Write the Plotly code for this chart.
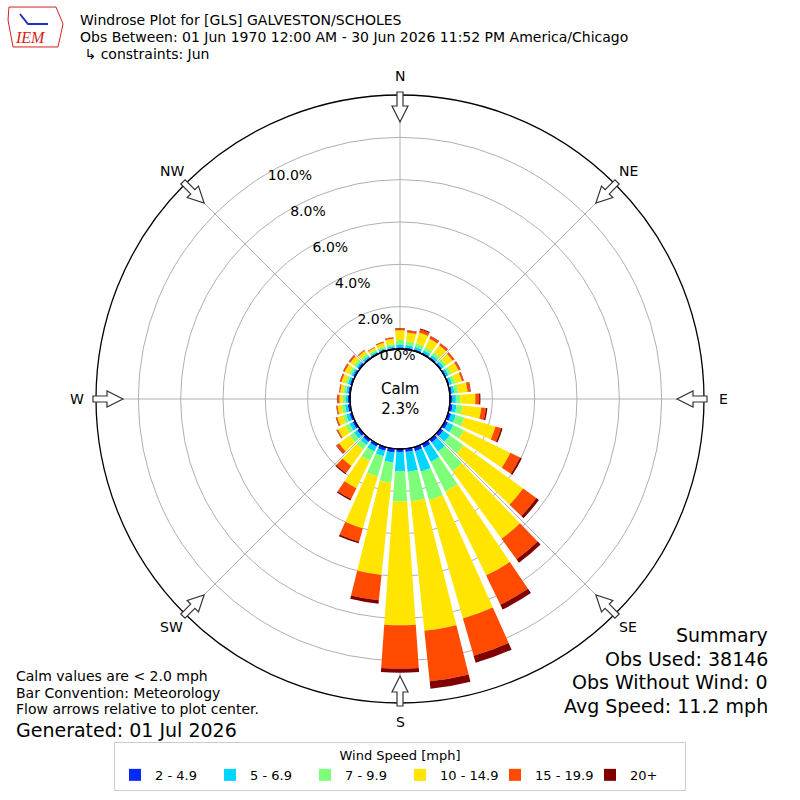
import math
import plotly.graph_objects as go

# wind rose data: percent of observations, by direction (deg) and speed bin
directions = list(range(0, 360, 10))
speed_bins = ['2 - 4.9', '5 - 6.9', '7 - 9.9', '10 - 14.9', '15 - 19.9', '20+']
bin_colors = ['#0029ff', '#00d5ff', '#7dff7a', '#ffe500', '#ff4a00', '#800000']

pct_2_5 = [0.08, 0.08, 0.08, 0.08, 0.08, 0.08, 0.08, 0.08, 0.10, 0.12, 0.14, 0.15,
           0.16, 0.17, 0.18, 0.20, 0.20, 0.16, 0.14, 0.18, 0.18, 0.15, 0.15, 0.15,
           0.13, 0.12, 0.12, 0.10, 0.10, 0.10, 0.10, 0.10, 0.08, 0.07, 0.07, 0.07]
pct_5_7 = [0.14, 0.12, 0.12, 0.12, 0.12, 0.12, 0.12, 0.12, 0.12, 0.16, 0.18, 0.23,
           0.29, 0.38, 0.52, 0.75, 1.00, 0.94, 0.91, 0.47, 0.27, 0.25, 0.18, 0.18,
           0.17, 0.16, 0.13, 0.12, 0.10, 0.10, 0.10, 0.10, 0.09, 0.07, 0.07, 0.08]
pct_7_10 = [0.20, 0.18, 0.18, 0.16, 0.16, 0.15, 0.15, 0.15, 0.18, 0.22, 0.28, 0.42,
            0.55, 0.80, 1.15, 1.55, 1.40, 1.40, 1.43, 0.95, 1.00, 0.50, 0.27, 0.25,
            0.20, 0.17, 0.15, 0.13, 0.12, 0.12, 0.12, 0.12, 0.11, 0.08, 0.08, 0.10]
pct_10_15 = [0.46, 0.42, 0.52, 0.44, 0.42, 0.37, 0.37, 0.33, 0.45, 0.70, 0.90, 1.53,
             2.44, 3.48, 3.95, 4.42, 5.82, 6.15, 5.85, 4.40, 2.55, 1.43, 0.95, 0.62,
             0.40, 0.27, 0.20, 0.15, 0.16, 0.20, 0.23, 0.23, 0.17, 0.11, 0.18, 0.25]
pct_15_20 = [0.09, 0.10, 0.15, 0.12, 0.10, 0.08, 0.08, 0.08, 0.12, 0.18, 0.22, 0.27,
             0.51, 0.77, 1.20, 1.53, 1.84, 2.40, 2.05, 1.20, 0.65, 0.57, 0.43, 0.15,
             0.06, 0.06, 0.05, 0.10, 0.05, 0.06, 0.07, 0.07, 0.05, 0.03, 0.05, 0.06]
pct_20_up = [0.02, 0.02, 0.05, 0.03, 0.02, 0.02, 0.03, 0.02, 0.03, 0.06, 0.07, 0.08,
             0.09, 0.15, 0.20, 0.25, 0.34, 0.35, 0.19, 0.16, 0.08, 0.07, 0.05, 0.03,
             0.02, 0.02, 0.02, 0.02, 0.01, 0.02, 0.02, 0.02, 0.01, 0.01, 0.01, 0.01]
series = [pct_2_5, pct_5_7, pct_7_10, pct_10_15, pct_15_20, pct_20_up]

calm_pct = 2.3
radial_ticks = [0, 2, 4, 6, 8, 10]
compass_angles = [0, 45, 90, 135, 180, 225, 270, 315]
compass_labels = ['N', 'NE', 'E', 'SE', 'S', 'SW', 'W', 'NW']

title_lines = ['Windrose Plot for [GLS] GALVESTON/SCHOLES',
               'Obs Between: 01 Jun 1970 12:00 AM - 30 Jun 2026 11:52 PM America/Chicago',
               ' ↳ constraints: Jun']
note_lines = ['Calm values are < 2.0 mph', 'Bar Convention: Meteorology',
              'Flow arrows relative to plot center.']
summary_lines = ['Summary', 'Obs Used: 38146', 'Obs Without Wind: 0', 'Avg Speed: 11.2 mph']

fig = go.Figure()
for name, vals, col in zip(speed_bins, series, bin_colors):
    fig.add_trace(go.Barpolar(
        r=vals, theta=directions, width=8, name=name,
        marker=dict(color=col, line=dict(width=0))))

# plot geometry in pixels (800x800 page)
W = 800
cx, cy, R, hole_r = 400, 399, 304, 50

def px(x, y):
    return x / W, 1 - y / W

shapes = []
# calm circle outline
shapes.append(dict(type='circle', xref='paper', yref='paper',
                   x0=(cx - hole_r) / W, x1=(cx + hole_r) / W,
                   y0=1 - (cy + hole_r) / W, y1=1 - (cy - hole_r) / W,
                   line=dict(color='black', width=1.3)))

# hollow flow arrows at the rim
for b in compass_angles:
    a = math.radians(b)
    ux, uy = math.sin(a), -math.cos(a)
    vx, vy = -uy, ux
    pts = [(307, -3), (293, -3), (293, -8), (277, 0), (293, 8), (293, 3), (307, 3)]
    path = ''
    for i, (r, w) in enumerate(pts):
        x, y = px(cx + r * ux + w * vx, cy + r * uy + w * vy)
        path += ('M' if i == 0 else 'L') + '{:.5f},{:.5f} '.format(x, y)
    shapes.append(dict(type='path', xref='paper', yref='paper', path=path + 'Z',
                       fillcolor='white', line=dict(color='#333333', width=1.2)))

ann = []
for b, lab in zip(compass_angles, compass_labels):
    a = math.radians(b)
    x, y = px(cx + 323 * math.sin(a), cy - 323 * math.cos(a))
    ann.append(dict(x=x, y=y, xref='paper', yref='paper', text=lab, showarrow=False,
                    font=dict(size=14), xanchor='center', yanchor='middle'))

ann.append(dict(x=0.5, y=1 - cy / W, xref='paper', yref='paper', xanchor='center', yanchor='middle',
                text='Calm<br>{:.1f}%'.format(calm_pct), showarrow=False,
                font=dict(size=15), align='center'))

def text_line(txt, x, y, size, anchor='left'):
    return dict(x=x / W, y=1 - y / W, xref='paper', yref='paper', xanchor=anchor,
                yanchor='middle', text=txt, showarrow=False, font=dict(size=size))

for i, t in enumerate(title_lines):
    ann.append(text_line(t, 78, 20 + 17 * i, 14))
for i, t in enumerate(note_lines):
    ann.append(text_line(t, 14, 676 + 16.5 * i, 14))
ann.append(text_line('Generated: 01 Jul 2026', 14, 730, 19))
for i, t in enumerate(summary_lines):
    ann.append(text_line(t, 770, 635 + 23.5 * i, 19, 'right'))

# logo stand-in
ann.append(dict(x=30 / W, y=1 - 38 / W, xref='paper', yref='paper', text='<i>IEM</i>',
                xanchor='center', yanchor='middle',
                showarrow=False, font=dict(size=16, color='#d42020', family='Liberation Serif')))
shapes.append(dict(type='path', xref='paper', yref='paper',
                   path='M{:.4f},{:.4f} L{:.4f},{:.4f} L{:.4f},{:.4f} L{:.4f},{:.4f} L{:.4f},{:.4f} L{:.4f},{:.4f} Z'.format(
                       *px(9, 7), *px(56, 7), *px(63, 24), *px(58, 47), *px(13, 47), *px(8, 20)),
                   line=dict(color='#d42020', width=1)))
shapes.append(dict(type='path', xref='paper', yref='paper',
                   path='M{:.4f},{:.4f} L{:.4f},{:.4f} L{:.4f},{:.4f}'.format(
                       *px(20, 14), *px(28, 24), *px(48, 24)),
                   line=dict(color='#2030c0', width=2)))

fig.update_layout(
    width=800, height=800,
    margin=dict(l=0, r=0, t=0, b=0),
    paper_bgcolor='white',
    font=dict(family='DejaVu Sans', color='black', size=13),
    shapes=shapes,
    annotations=ann,
    polar=dict(
        domain=dict(x=[(cx - R) / W, (cx + R) / W], y=[1 - (cy + R) / W, 1 - (cy - R) / W]),
        hole=hole_r / R,
        bgcolor='white',
        barmode='stack',
        radialaxis=dict(range=[0, 12], tickvals=radial_ticks,
                        ticktext=['{:.1f}%'.format(v) for v in radial_ticks],
                        angle=122, tickangle=122, showline=False, ticks='',
                        gridcolor='#b0b0b0', gridwidth=1, layer='above traces',
                        tickfont=dict(size=14)),
        angularaxis=dict(rotation=90, direction='clockwise', tickvals=compass_angles,
                         showticklabels=False, ticks='', showline=True,
                         linecolor='black', linewidth=1.3,
                         gridcolor='#b0b0b0', gridwidth=1, layer='above traces'),
    ),
    legend=dict(orientation='h', x=0.5, xanchor='center', y=1 - 742 / W, yanchor='top',
                bordercolor='#cccccc', borderwidth=1, font=dict(size=13),
                title=dict(text='Wind Speed [mph]', side='top center', font=dict(size=13)),
                entrywidth=50, itemwidth=30),
)

fig.write_html('out.html', config={'displayModeBar': False},
               post_script="document.body.style.margin='0';")
